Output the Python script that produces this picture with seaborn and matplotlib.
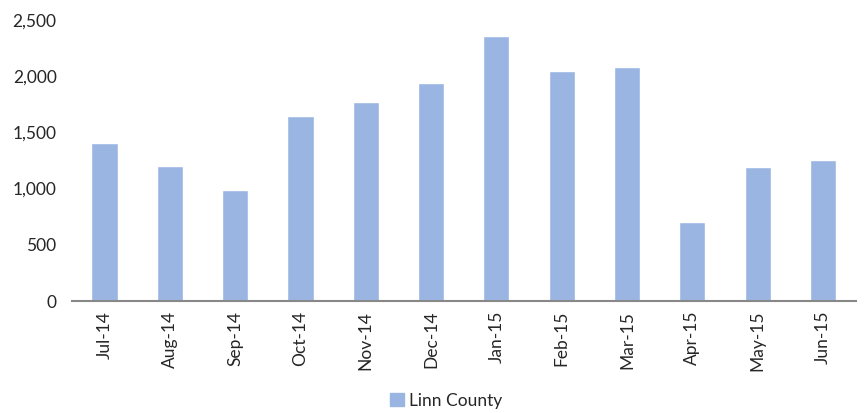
import pandas as pd
import matplotlib.pyplot as plt
import seaborn as sns
from matplotlib.patches import Patch

months = ['Jul-14', 'Aug-14', 'Sep-14', 'Oct-14', 'Nov-14', 'Dec-14',
          'Jan-15', 'Feb-15', 'Mar-15', 'Apr-15', 'May-15', 'Jun-15']
values = [1402, 1203, 990, 1642, 1773, 1942, 2354, 2042, 2081, 703, 1192, 1251]
series_name = 'Linn County'

df = pd.DataFrame({'Month': months, 'Value': values})

sns.set_style('white')
plt.rcParams['font.family'] = ['Lato', 'DejaVu Sans']

bar_color = '#9bb5e3'
fs = 12.5
fig = plt.figure(figsize=(8.66, 4.13), dpi=100)
ax = fig.add_axes([0.083, 0.271, 0.905, 0.681])
sns.barplot(data=df, x='Month', y='Value', color=bar_color, width=0.4,
            saturation=1, ax=ax)

ax.set_ylim(0, 2500)
ax.set_yticks(range(0, 2501, 500))
ax.set_yticklabels([f'{v:,}' for v in range(0, 2501, 500)], fontsize=fs)
ax.set_xticks(range(len(months)))
ax.set_xticklabels(months, rotation=90, fontsize=fs)
ax.set_xlim(-0.5, len(months) - 0.5)
ax.set_xlabel('')
ax.set_ylabel('')
ax.tick_params(axis='x', length=0, pad=7)
ax.tick_params(axis='y', length=0, pad=11)

for s in ['top', 'right', 'left']:
    ax.spines[s].set_visible(False)
ax.spines['bottom'].set_color('#888888')
ax.spines['bottom'].set_linewidth(1.5)

fig.legend(handles=[Patch(color=bar_color, label=series_name)],
           loc='center', bbox_to_anchor=(0.515, 0.03), frameon=False,
           fontsize=fs, handlelength=0.8, handleheight=0.8, handletextpad=0.3)

fig.savefig('out.png', dpi=100)
